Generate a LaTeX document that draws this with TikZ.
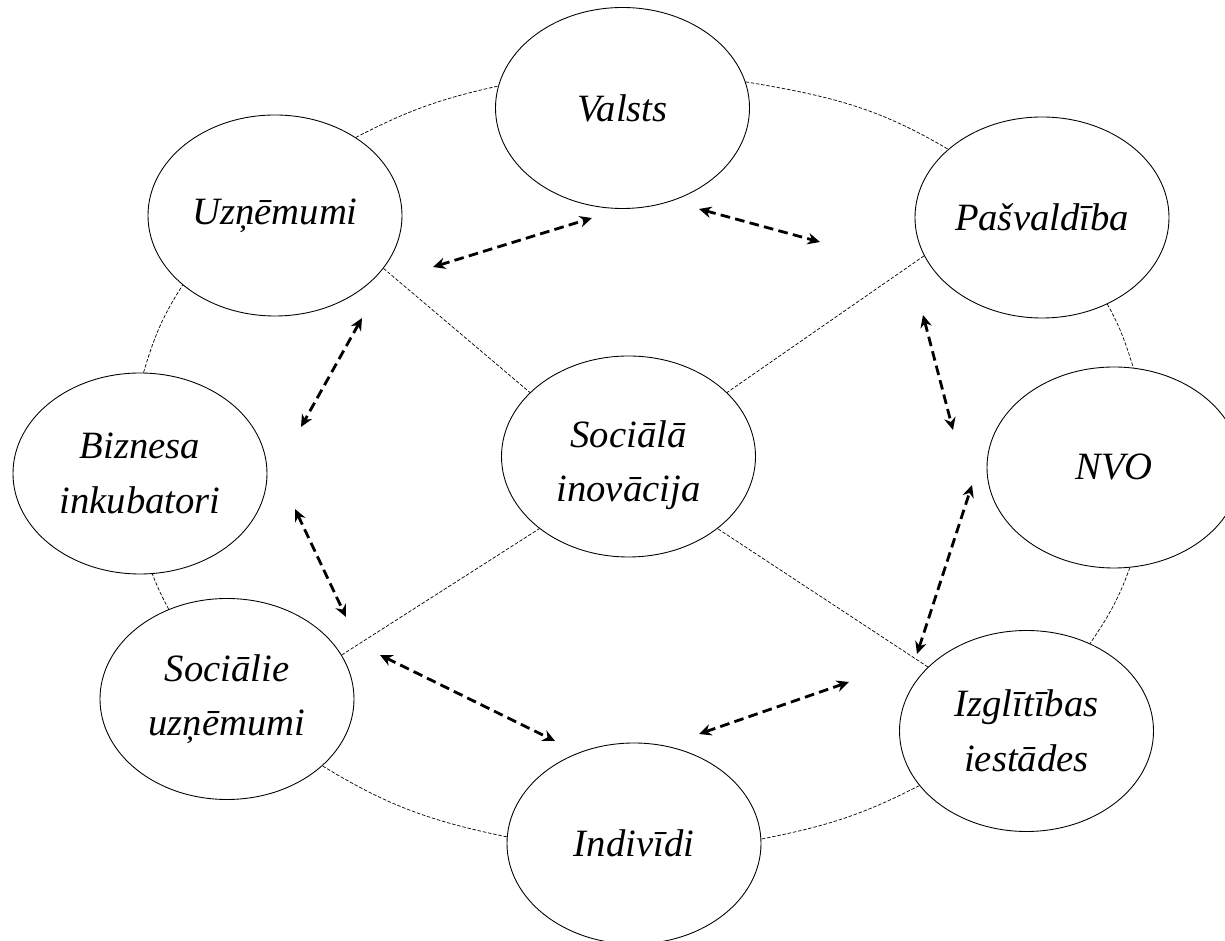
\documentclass[tikz,border=0pt]{standalone}
\usepackage{fontspec}
\setmainfont{Liberation Serif}
\usetikzlibrary{arrows.meta}
\usetikzlibrary{shapes.geometric}

\begin{document}
\begin{tikzpicture}[
		actor/.style={ellipse, draw, line width=0.5pt, fill=white, minimum width=5.08cm, minimum height=4.02cm, inner sep=0pt, align=center, font=\fontsize{22}{31}\selectfont\itshape},
		ring/.style={line width=0.4pt, dash pattern=on 2pt off 1pt},
		link/.style={line width=1.6pt, dash pattern=on 5.5pt off 3pt, {Stealth[length=7pt,width=6.5pt]}-{Stealth[length=7pt,width=6.5pt]}}]
	\useasboundingbox (0,0) rectangle (24.5,18.82);

	\node[actor] (valsts) at (12.45,16.66) {Valsts};
	\node[actor] (uzn) at (5.50,14.51) {Uzņēmumi};
	\node[actor] (pasv) at (20.84,14.47) {Pašvaldība};
	\node[actor] (bizn) at (2.80,9.35) {Biznesa\\inkubatori};
	\node[actor] (inov) at (12.57,9.69) {\rule{0pt}{25pt}Sociālā\\inovācija};
	\node[actor] (nvo) at (22.28,9.47) {NVO};
	\node[actor] (socu) at (4.54,4.84) {Sociālie\\uzņēmumi};
	\node[actor] (izgl) at (20.53,4.20) {Izglītības\\iestādes};
	\node[actor] (indiv) at (12.68,1.95) {Indivīdi};

	% outer ring
	\draw[ring] (uzn.44.5) to[out=27.4,in=192.5] (valsts.170.4);
	\draw[ring] (valsts.12.9) to[out=-9.6,in=149.3] (pasv.144.6);
	\draw[ring] (pasv.-53.8) to[out=-60.8,in=107.7] (nvo.79.3);
	\draw[ring] (nvo.-81.4) to[out=-109.9,in=55.8] (izgl.54.3);
	\draw[ring] (izgl.207.7) to[out=-152.7,in=11.2] (indiv.2.5);
	\draw[ring] (indiv.177.1) to[out=168.3,in=-31.5] (socu.-35.6);
	\draw[ring] (socu.123.5) to[out=118.1,in=-68.7] (bizn.-83.8);
	\draw[ring] (bizn.88.9) to[out=73.4,in=237.2] (uzn.217.9);

	% spokes to the centre
	\draw[ring] (uzn.-26.6) -- (inov.147.5);
	\draw[ring] (pasv.198.6) -- (inov.33.2);
	\draw[ring] (socu.21) -- (inov.219.8);
	\draw[ring] (izgl.147.5) -- (inov.-39.7);

	% two-way links
	\coordinate (uv1) at (8.66,13.48);   \coordinate (uv2) at (11.84,14.46);
	\coordinate (vp1) at (13.98,14.64);  \coordinate (vp2) at (16.40,13.98);
	\coordinate (ub1) at (7.24,12.46);   \coordinate (ub2) at (6.02,10.28);
	\coordinate (bs1) at (5.90,8.64);    \coordinate (bs2) at (6.92,6.48);
	\coordinate (si1) at (7.60,5.72);    \coordinate (si2) at (11.10,4.00);
	\coordinate (ii1) at (13.98,4.14);   \coordinate (ii2) at (16.98,5.18);
	\coordinate (in1) at (18.34,5.74);   \coordinate (in2) at (19.44,9.12);
	\coordinate (pn1) at (18.46,12.52);  \coordinate (pn2) at (19.06,10.22);

	\draw[link] (uv1) -- (uv2);
	\draw[link] (vp1) -- (vp2);
	\draw[link] (ub1) -- (ub2);
	\draw[link] (bs1) -- (bs2);
	\draw[link] (si1) -- (si2);
	\draw[link] (ii1) -- (ii2);
	\draw[link] (in1) -- (in2);
	\draw[link] (pn1) -- (pn2);
\end{tikzpicture}
\end{document}
